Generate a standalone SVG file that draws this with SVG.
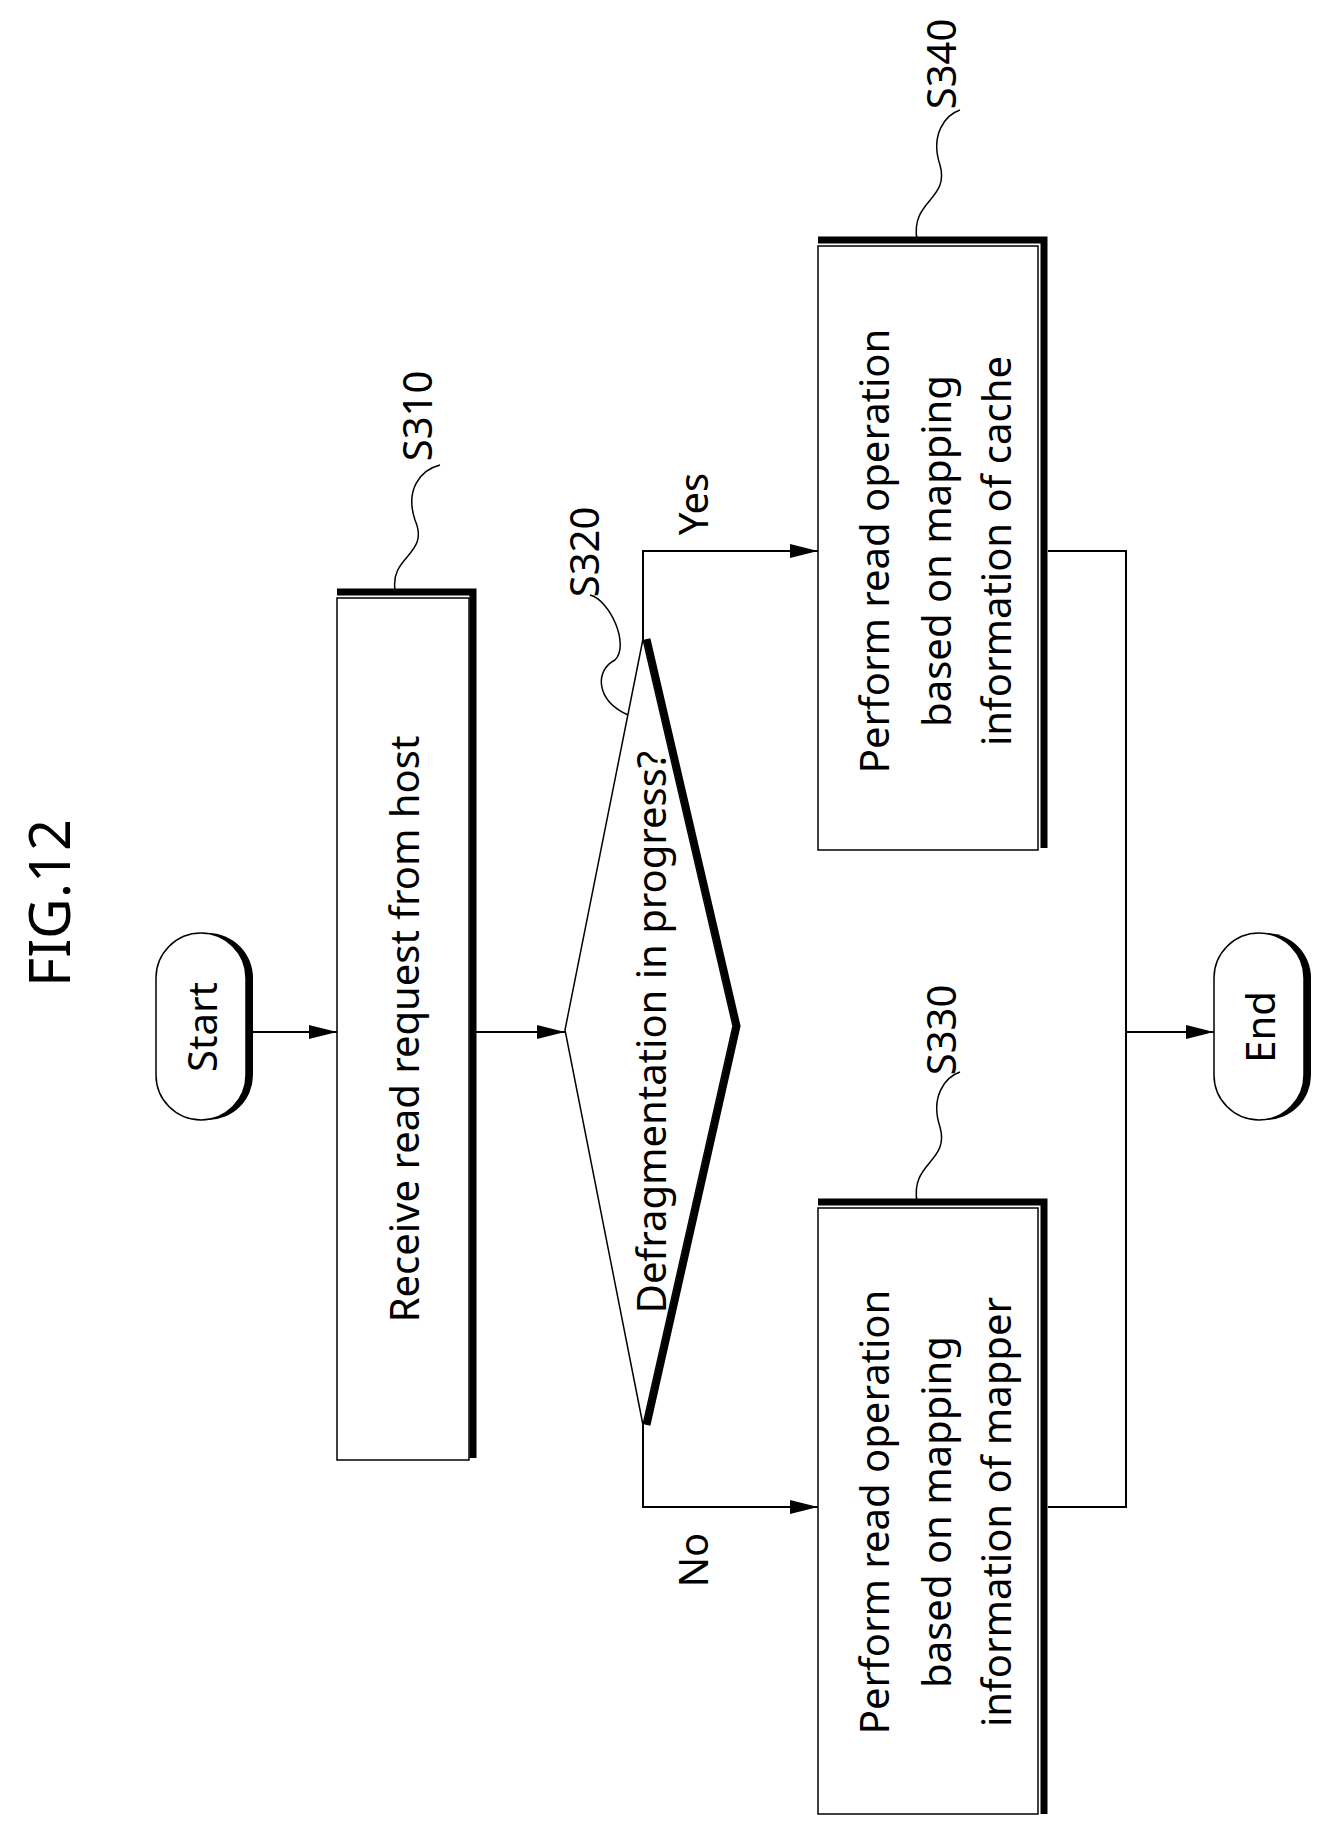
<svg xmlns="http://www.w3.org/2000/svg" width="1326" height="1832" viewBox="0 0 1326 1832">
<style>
.t{font-family:"Noto Sans","Open Sans",sans-serif;font-size:40px;fill:#000;text-anchor:middle;dominant-baseline:central}
.b{fill:#fff;stroke:#000;stroke-width:1.5}
.sh{fill:none;stroke:#000;stroke-width:7}
.c{fill:none;stroke:#000;stroke-width:2}
.l{fill:none;stroke:#000;stroke-width:1.5}
</style>
<defs>
<marker id="ah" viewBox="0 0 24 12" refX="24" refY="6" markerWidth="28" markerHeight="14" markerUnits="userSpaceOnUse" orient="auto"><path d="M0,0 L24,6 L0,12 Z" fill="#000"/></marker></defs>
<text class="t" style="font-size:56px" transform="translate(48,903) rotate(-90)">FIG.12</text>
<g id="start"><rect x="163" y="933" width="90" height="187" rx="45" fill="#000"/><rect class="b" x="156" y="933" width="90" height="187" rx="45"/><text class="t" transform="translate(201,1027) rotate(-90)">Start</text></g>
<g id="s310"><polyline class="sh" points="337,592 473,592 473,1458"/><rect class="b" x="337" y="598" width="132" height="862"/><text class="t" transform="translate(403,1029) rotate(-90)">Receive read request from host</text>
<path class="l" d="M395,590 C390,555 430,555 415,520 C405,490 420,470 440,465"/><text class="t" transform="translate(416,416) rotate(-90)">S310</text></g>
<g id="s320"><polyline class="sh" points="647,639 737,1026 647,1425"/><polygon class="b" points="565,1030 643,639 733,1026 643,1425"/><text class="t" transform="translate(650,1032) rotate(-90)">Defragmentation in progress?</text>
<path class="l" d="M628,715 C595,700 595,670 615,660 C630,645 610,600 590,595"/><text class="t" transform="translate(583,552) rotate(-90)">S320</text></g>
<g id="s340"><polyline class="sh" points="818,240 1044,240 1044,848"/><rect class="b" x="818" y="246" width="220" height="604"/><text class="t" transform="translate(873,551) rotate(-90)">Perform read operation</text><text class="t" transform="translate(935,551) rotate(-90)">based on mapping</text><text class="t" transform="translate(995,551) rotate(-90)">information of cache</text>
<path class="l" d="M917,240 C910,200 950,200 940,165 C930,135 945,115 960,110"/><text class="t" transform="translate(940,64) rotate(-90)">S340</text></g>
<g id="s330"><polyline class="sh" points="818,1202 1044,1202 1044,1814"/><rect class="b" x="818" y="1208" width="220" height="606"/><text class="t" transform="translate(873,1512) rotate(-90)">Perform read operation</text><text class="t" transform="translate(935,1512) rotate(-90)">based on mapping</text><text class="t" transform="translate(995,1512) rotate(-90)">information of mapper</text>
<path class="l" d="M917,1202 C910,1162 950,1162 940,1127 C930,1097 945,1077 960,1072"/><text class="t" transform="translate(940,1030) rotate(-90)">S330</text></g>
<g id="end"><rect x="1221" y="933" width="90" height="187" rx="45" fill="#000"/><rect class="b" x="1214" y="933" width="90" height="187" rx="45"/><text class="t" transform="translate(1259,1027) rotate(-90)">End</text></g>
<g id="connectors">
<line class="c" x1="253" y1="1032" x2="337" y2="1032" marker-end="url(#ah)"/>
<line class="c" x1="476" y1="1032" x2="565" y2="1032" marker-end="url(#ah)"/>
<polyline class="c" points="643,639 643,551 818,551" marker-end="url(#ah)"/>
<polyline class="c" points="643,1425 643,1507 818,1507" marker-end="url(#ah)"/>
<polyline class="c" points="1048,551 1126,551 1126,1507 1048,1507"/>
<line class="c" x1="1126" y1="1032" x2="1214" y2="1032" marker-end="url(#ah)"/>
<text class="t" transform="translate(692,504) rotate(-90)">Yes</text>
<text class="t" transform="translate(692,1560) rotate(-90)">No</text>
</g>
</svg>
